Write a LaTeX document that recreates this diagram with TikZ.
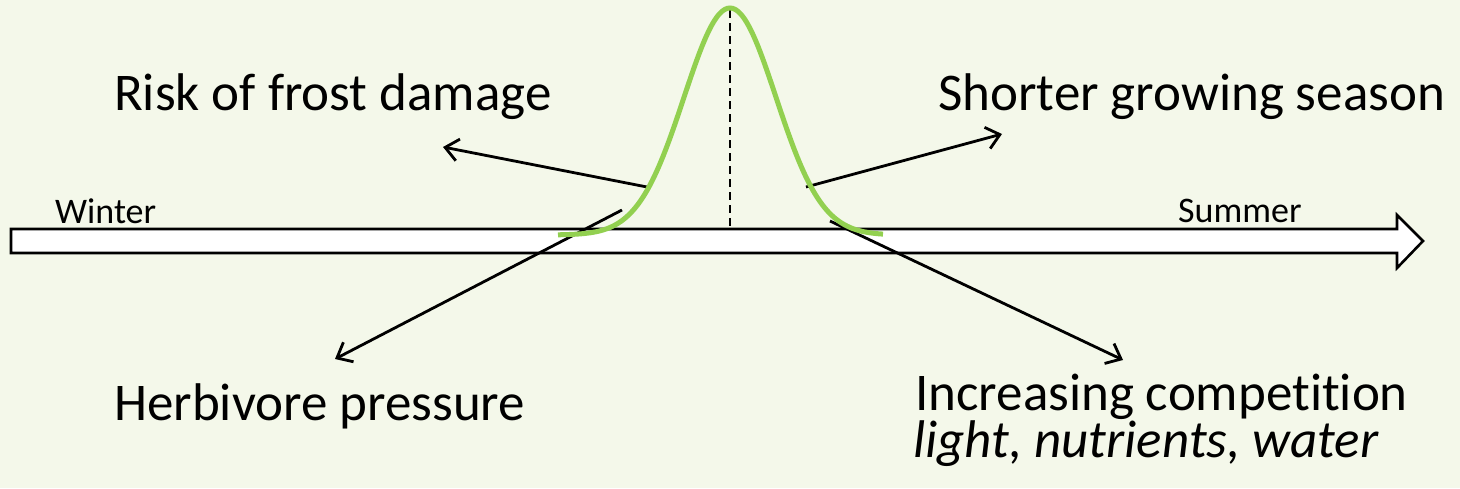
\documentclass[tikz,border=0pt]{standalone}
\usepackage{fontspec}
\setmainfont{Carlito}[Ligatures=CommonOff]
\usetikzlibrary{arrows.meta}
\definecolor{bgcol}{RGB}{244,248,234}
\definecolor{curvegreen}{RGB}{146,208,80}
\begin{document}
\begin{tikzpicture}[x=1pt,y=-1pt,
  bigtext/.style={anchor=base west,inner sep=0pt,font=\fontsize{53}{45}\selectfont},
  smalltext/.style={anchor=base west,inner sep=0pt,font=\fontsize{36}{44}\selectfont},
  effect/.style={line width=2.8pt,-{Straight Barb[length=13pt,width=22pt,line width=2.8pt]}},
  timeline/.style={draw=black,fill=white,line width=2.6pt,line join=miter}]
\fill[bgcol] (0,0) rectangle (1460,488);
\useasboundingbox (0,0) rectangle (1460,488);
% timeline arrow
\draw[timeline] (11,229) -- (1397,229) -- (1397,215) -- (1423,241) -- (1397,268) -- (1397,253) -- (11,253) -- cycle;
\node[smalltext] (winter) at (55,223) {Winter};
\node[smalltext] (summer) at (1178,222) {Summer};
% dashed peak line
\coordinate (peak) at (730,10);
\coordinate (peakbase) at (730,229);
\draw[line width=2.8pt,dash pattern=on 8pt off 5pt] (peak) -- (peakbase);
% effect arrows
\coordinate (s1) at (647,187);
\coordinate (t1) at (443,147);
\coordinate (s2) at (806,187);
\coordinate (t2) at (1002,134);
\coordinate (s3) at (622,210);
\coordinate (t3) at (335,359);
\coordinate (s4) at (830,221);
\coordinate (t4) at (1123,360);
\draw[effect] (s1) -- (t1);
\draw[effect] (s2) -- (t2);
\draw[effect] (s3) -- (t3);
\draw[effect] (s4) -- (t4);
% curve
\draw[curvegreen,line width=5pt] plot[domain=558:883,samples=120,smooth] (\x,{235-227*exp(-0.5*((\x-730)/46)^2)});
% labels
\node[bigtext] (frost) at (114,110) {Risk of frost damage};
\node[bigtext] (season) at (938,110) {Shorter growing season};
\node[bigtext] (herb) at (114,420) {Herbivore pressure};
\node[bigtext,align=left] (comp) at (915,457) {Increasing competition\\\hspace*{-2pt}\itshape light, nutrients, water};
\end{tikzpicture}
\end{document}
